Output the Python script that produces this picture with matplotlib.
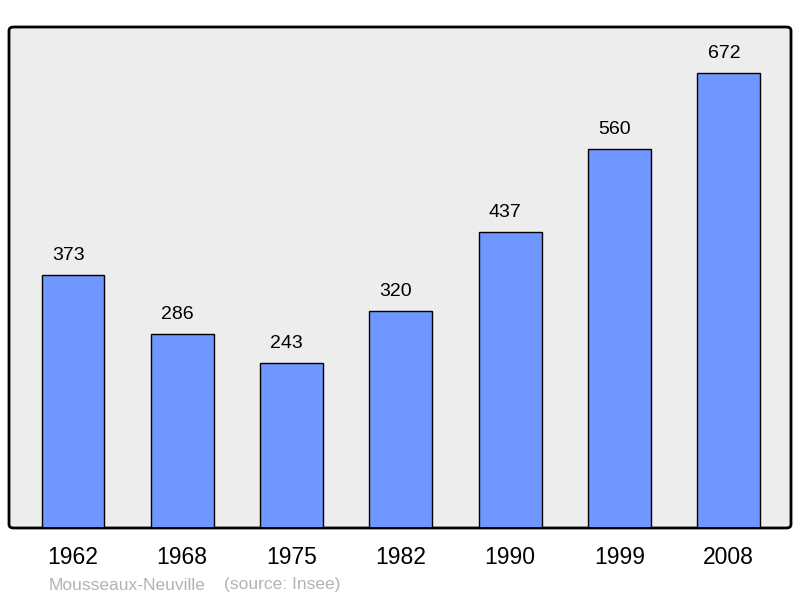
import matplotlib.pyplot as plt
from matplotlib.patches import FancyBboxPatch

plt.rcParams['font.family'] = ['Liberation Sans', 'DejaVu Sans']

years = ['1962', '1968', '1975', '1982', '1990', '1999', '2008']
population = [373, 286, 243, 320, 437, 560, 672]

fig = plt.figure(figsize=(8, 5.98), dpi=100)
ax = fig.add_axes([9 / 800, 70 / 598, 782 / 800, 501 / 598])
ax.set_facecolor('none')

# rounded frame behind the axes
frame = FancyBboxPatch((9 / 800, 70 / 598), 782 / 800, 501 / 598,
                       boxstyle='round,pad=0,rounding_size=0.006',
                       transform=fig.transFigure, facecolor='#ededed',
                       edgecolor='black', linewidth=2, zorder=-1)
fig.patches.append(frame)

x = range(len(years))
ax.bar(x, population, width=0.575, color='#7097ff', edgecolor='black',
       linewidth=1, zorder=2)
for i, v in zip(x, population):
    ax.annotate(str(v), (i, v), xytext=(-3.5, 8), textcoords='offset points',
                ha='center', va='bottom', fontsize=14)

ax.set_xlim(-0.585, 6.57)
ax.set_ylim(0, 740)
ax.set_xticks(list(x))
ax.set_xticklabels(years, fontsize=16.5)
ax.tick_params(axis='x', length=0, pad=13)
ax.set_yticks([])
for s in ax.spines.values():
    s.set_visible(False)
ax.axhline(0, color='black', linewidth=2, zorder=3)

fig.text(49 / 800, 1 - 585 / 598, 'Mousseaux-Neuville', color='#b3b3b3',
         fontsize=12.5, va='center', ha='left')
fig.text(224 / 800, 1 - 585 / 598, '(source: Insee)', color='#b3b3b3',
         fontsize=12.5, va='center', ha='left')

fig.savefig('out.png', dpi=100)
